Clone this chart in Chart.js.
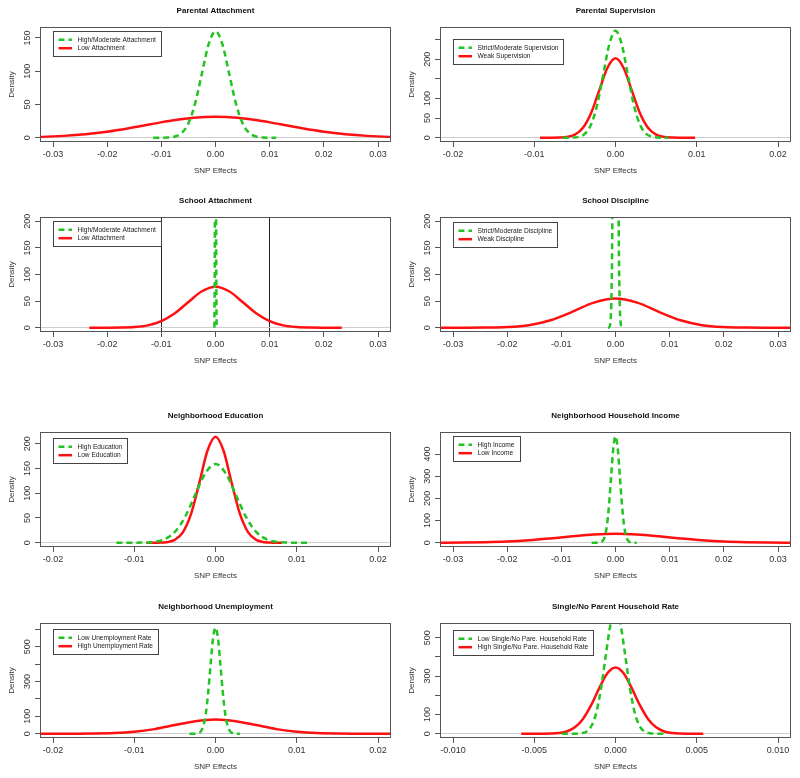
<!DOCTYPE html>
<html><head><meta charset="utf-8">
<script src="https://cdn.jsdelivr.net/npm/chart.js"></script>
<style>
html,body{margin:0;padding:0;background:#fff;}
body{width:800px;height:778px;position:relative;overflow:hidden;}
canvas{position:absolute;}
</style></head><body>
<script>
// ---------- text ----------
const titles = ['Parental Attachment','Parental Supervision','School Attachment','School Discipline',
  'Neighborhood Education','Neighborhood Household Income','Neighborhood Unemployment','Single/No Parent Household Rate'];
const legendHigh = ['High/Moderate Attachment','Strict/Moderate Supervision','High/Moderate Attachment','Strict/Moderate Discipline',
  'High Education','High Income','Low Unemployment Rate','Low Single/No Pare. Household Rate'];
const legendLow = ['Low Attachment','Weak Supervision','Low Attachment','Weak Discipline',
  'Low Education','Low Income','High Unemployment Rate','High Single/No Pare. Household Rate'];
const xTitle = 'SNP Effects';
const yTitle = 'Density';

// ---------- x ticks ----------
const xTicks3 = [-0.03,-0.02,-0.01,0,0.01,0.02,0.03];
const xLabels3 = ['-0.03','-0.02','-0.01','0.00','0.01','0.02','0.03'];
const xTicks2 = [-0.02,-0.01,0,0.01,0.02];
const xLabels2 = ['-0.02','-0.01','0.00','0.01','0.02'];
const xTicks1 = [-0.01,-0.005,0,0.005,0.01];
const xLabels1 = ['-0.010','-0.005','0.000','0.005','0.010'];
const xlim3 = [-0.0324,0.0324];
const xlim2 = [-0.0216,0.0216];
const xlim1 = [-0.0108,0.0108];

// ---------- y ticks ----------
const yTicksA = [0,50,100,150];            const yLabelsA = ['0','50','100','150'];
const yTicksB = [0,50,100,150,200,250];    const yLabelsB = ['0','50','100','','200',''];
const yTicksC = [0,50,100,150,200];        const yLabelsC = ['0','50','100','150','200'];
const yTicksD = [0,100,200,300,400];       const yLabelsD = ['0','100','200','300','400'];
const yTicksE = [0,100,200,300,400,500,600]; const yLabelsE = ['0','100','','300','','500',''];
const yTicksF = [0,100,200,300,400,500];   const yLabelsF = ['0','100','','300','','500'];
const ylim1 = [-6.4,166.4], ylim2 = [-10.84,281.84], ylim3 = [-8,208], ylim4 = [-8,208];
const ylim5 = [-8.6,223.6], ylim6 = [-19.2,499.2], ylim7 = [-24.5,636.5], ylim8 = [-22.2,576.2];
const vlines3 = [-0.01,0.01];

// ---------- curves ----------
const pa_hi_x = [-0.0115,-0.00875,-0.0075,-0.00625,-0.005,-0.00375,-0.0025,-0.00125,0,0.00125,0.0025,0.00375,0.005,0.00625,0.0075,0.00875,0.0112];
const pa_hi_y = [0,0.4,1.8,7,21.7,52,97,141,160,141,97,52,21.7,7,1.8,0.4,0];
const pa_lo_x = [-0.036,-0.032,-0.028,-0.024,-0.02,-0.016,-0.012,-0.008,-0.004,0,0.004,0.008,0.012,0.016,0.02,0.024,0.028,0.032,0.036];
const pa_lo_y = [0.6,1.3,2.8,5.3,9.1,14.3,20.2,25.8,30,31.5,30,25.8,20.2,14.3,9.1,5.3,2.8,1.3,0.6];

const ps_hi_x = [-0.0065,-0.00525,-0.0045,-0.00375,-0.003,-0.00225,-0.0015,-0.00075,0,0.00075,0.0015,0.00225,0.003,0.00375,0.0045,0.00525,0.0065];
const ps_hi_y = [0,0.46,2.5,10.6,34,84,162,239,272,239,162,84,34,10.6,2.5,0.46,0];
const ps_lo_x = [-0.0093,-0.008,-0.007,-0.006,-0.005,-0.004,-0.003,-0.002,-0.001,0,0.001,0.002,0.003,0.004,0.005,0.006,0.007,0.008,0.0098];
const ps_lo_y = [0,0.05,0.36,1.9,8,25.6,63.2,120.6,177.5,202,177.5,120.6,63.2,25.6,8,1.9,0.36,0.05,0];

const sa_hi_x = [-0.0002,-0.0001,0,0.0001,0.0002];
const sa_hi_y = [0,350,2600,350,0];
const sa_lo_x = [-0.0233,-0.02,-0.0175,-0.015,-0.0125,-0.01,-0.0075,-0.005,-0.0025,0,0.0025,0.005,0.0075,0.01,0.0125,0.015,0.0175,0.02,0.0233];
const sa_lo_y = [0,0.04,0.26,1.2,4.4,12.6,27.3,48.3,68.5,77,68.5,48.3,27.3,12.6,4.4,1.2,0.26,0.04,0];

const sd_hi_x = [-0.0014,-0.0012,-0.0009,-0.00075,-0.0006,-0.0003,0,0.0003,0.0006,0.00075,0.0009,0.0012,0.0014];
const sd_hi_y = [0,0.45,14.8,58,180,807,1330,807,180,58,14.8,0.45,0];
const sd_lo_x = [-0.036,-0.032,-0.028,-0.024,-0.02,-0.016,-0.012,-0.008,-0.004,0,0.004,0.008,0.012,0.016,0.02,0.024,0.028,0.032,0.036];
const sd_lo_y = [0,0.01,0.03,0.23,1.22,4.8,14,29.9,47.2,55,47.2,29.9,14,4.8,1.22,0.23,0.03,0.01,0];

const ne_hi_x = [-0.0122,-0.0105,-0.00875,-0.0075,-0.00625,-0.005,-0.00375,-0.0025,-0.00125,0,0.00125,0.0025,0.00375,0.005,0.00625,0.0075,0.00875,0.0105,0.0117];
const ne_hi_y = [0,0.02,0.36,1.8,7.2,21.9,52.1,96.8,140.4,159,140.4,96.8,52.1,21.9,7.2,1.8,0.36,0.02,0];
const ne_lo_x = [-0.0085,-0.007,-0.006,-0.005,-0.004,-0.003,-0.002,-0.001,0,0.001,0.002,0.003,0.004,0.005,0.006,0.007,0.0082];
const ne_lo_y = [0,0.19,1.2,5.9,21.4,58.6,120.3,185.3,214,185.3,120.3,58.6,21.4,5.9,1.2,0.19,0];

const ni_hi_x = [-0.0044,-0.0032,-0.0028,-0.0024,-0.002,-0.0016,-0.0012,-0.0008,-0.0004,0,0.0004,0.0008,0.0012,0.0016,0.002,0.0024,0.0028,0.0032,0.0039];
const ni_hi_y = [0,0.29,1.65,7.4,26.5,75.2,169,302,427.6,480,427.6,302,169,75.2,26.5,7.4,1.65,0.29,0];
const ni_lo_x = [-0.036,-0.032,-0.028,-0.024,-0.02,-0.016,-0.012,-0.008,-0.004,0,0.004,0.008,0.012,0.016,0.02,0.024,0.028,0.032,0.036];
const ni_lo_y = [0.06,0.23,0.78,2.2,5.3,11,19.4,29,36.9,40,36.9,29,19.4,11,5.3,2.2,0.78,0.23,0.06];

const nu_hi_x = [-0.0032,-0.0024,-0.0021,-0.0018,-0.0015,-0.0012,-0.0009,-0.0006,-0.0003,0,0.0003,0.0006,0.0009,0.0012,0.0015,0.0018,0.0021,0.0024,0.003];
const nu_hi_y = [0,0.73,3.5,13.8,44,113.3,236.6,400,549,610,549,400,236.6,113.3,44,13.8,3.5,0.73,0];
const nu_lo_x = [-0.025,-0.02,-0.0175,-0.015,-0.0125,-0.01,-0.0075,-0.005,-0.0025,0,0.0025,0.005,0.0075,0.01,0.0125,0.015,0.0175,0.02,0.025];
const nu_lo_y = [0,0.03,0.18,0.9,3.6,11.1,26.6,49.7,72.4,82,72.4,49.7,26.6,11.1,3.6,0.9,0.18,0.03,0];

const sp_hi_x = [-0.0033,-0.0024,-0.0021,-0.0018,-0.0015,-0.0012,-0.0009,-0.0006,-0.0003,0,0.0003,0.0006,0.0009,0.0012,0.0015,0.0018,0.0021,0.0024,0.003];
const sp_hi_y = [0,0.45,2.5,10.8,37.6,104.3,230.7,406.7,571.5,640,571.5,406.7,230.7,104.3,37.6,10.8,2.5,0.45,0];
const sp_lo_x = [-0.0058,-0.0045,-0.004,-0.0035,-0.003,-0.0025,-0.002,-0.0015,-0.001,-0.0005,0,0.0005,0.001,0.0015,0.002,0.0025,0.003,0.0035,0.004,0.0045,0.0054];
const sp_lo_y = [0,0.18,0.87,3.5,11.9,33.3,77.2,148.6,237.3,314.2,345,314.2,237.3,148.6,77.2,33.3,11.9,3.5,0.87,0.18,0];

// ---------- assemble ----------
const panels = [
  {hi:[pa_hi_x,pa_hi_y], lo:[pa_lo_x,pa_lo_y], xlim:xlim3, xt:xTicks3, xl:xLabels3, ylim:ylim1, yt:yTicksA, yl:yLabelsA, vl:[]},
  {hi:[ps_hi_x,ps_hi_y], lo:[ps_lo_x,ps_lo_y], xlim:xlim2, xt:xTicks2, xl:xLabels2, ylim:ylim2, yt:yTicksB, yl:yLabelsB, vl:[]},
  {hi:[sa_hi_x,sa_hi_y], lo:[sa_lo_x,sa_lo_y], xlim:xlim3, xt:xTicks3, xl:xLabels3, ylim:ylim3, yt:yTicksC, yl:yLabelsC, vl:vlines3},
  {hi:[sd_hi_x,sd_hi_y], lo:[sd_lo_x,sd_lo_y], xlim:xlim3, xt:xTicks3, xl:xLabels3, ylim:ylim4, yt:yTicksC, yl:yLabelsC, vl:[]},
  {hi:[ne_hi_x,ne_hi_y], lo:[ne_lo_x,ne_lo_y], xlim:xlim2, xt:xTicks2, xl:xLabels2, ylim:ylim5, yt:yTicksC, yl:yLabelsC, vl:[]},
  {hi:[ni_hi_x,ni_hi_y], lo:[ni_lo_x,ni_lo_y], xlim:xlim3, xt:xTicks3, xl:xLabels3, ylim:ylim6, yt:yTicksD, yl:yLabelsD, vl:[]},
  {hi:[nu_hi_x,nu_hi_y], lo:[nu_lo_x,nu_lo_y], xlim:xlim2, xt:xTicks2, xl:xLabels2, ylim:ylim7, yt:yTicksE, yl:yLabelsE, vl:[]},
  {hi:[sp_hi_x,sp_hi_y], lo:[sp_lo_x,sp_lo_y], xlim:xlim1, xt:xTicks1, xl:xLabels1, ylim:ylim8, yt:yTicksF, yl:yLabelsF, vl:[]}
];

// layout (positions only)
const canvasPos = [[0,0],[400,0],[0,190],[400,190],[0,405],[400,405],[0,596],[400,596]];
const legendTop = [4,12,4,4.5,6,3.7,6.3,7];

const FONT = '"Liberation Sans", Arial, Helvetica, sans-serif';
const GREEN = '#22c322', RED = '#ff1010';
const pts = (xs, ys) => xs.map((x, i) => ({x: x, y: ys[i]}));

const frameLegend = {
  id: 'frameLegend',
  afterDatasetsDraw(chart, args, opts) {
    const ctx = chart.ctx, a = chart.chartArea;
    ctx.save();
    ctx.strokeStyle = '#555'; ctx.lineWidth = 1; ctx.setLineDash([]);
    ctx.strokeRect(Math.round(a.left) + 0.5, Math.round(a.top) + 0.5,
                   Math.round(a.right - a.left) - 1, Math.round(a.bottom - a.top) - 1);
    const lx = Math.round(a.left + 13), ly = Math.round(a.top + opts.top);
    ctx.font = '6.6px ' + FONT;
    const ds = chart.data.datasets;
    const tw = Math.max(...ds.map(d => ctx.measureText(d.label).width));
    const w = Math.round(24.5 + tw + 5), h = 25;
    ctx.strokeStyle = '#444'; ctx.lineWidth = 1;
    ctx.strokeRect(lx + 0.5, ly + 0.5, w, h);
    ds.forEach((d, i) => {
      const yy = ly + 8.8 + i * 8.4;
      ctx.beginPath();
      ctx.setLineDash(d.borderDash || []);
      ctx.strokeStyle = d.borderColor; ctx.lineWidth = d.borderWidth;
      ctx.moveTo(lx + 5.5, yy); ctx.lineTo(lx + 19, yy); ctx.stroke();
      ctx.setLineDash([]);
      ctx.fillStyle = '#222'; ctx.textBaseline = 'middle'; ctx.textAlign = 'left';
      ctx.fillText(d.label, lx + 24.5, yy);
    });
    ctx.restore();
  }
};

panels.forEach((p, i) => {
  const cv = document.createElement('canvas');
  cv.width = 400; cv.height = 180;
  cv.style.left = canvasPos[i][0] + 'px';
  cv.style.top = canvasPos[i][1] + 'px';
  cv.style.width = '400px'; cv.style.height = '180px';
  document.body.appendChild(cv);
  new Chart(cv, {
    type: 'line',
    data: { datasets: [
      { label: legendHigh[i], data: pts(p.hi[0], p.hi[1]), borderColor: GREEN, borderWidth: 2.5,
        borderDash: [6, 4], pointRadius: 0, fill: false, cubicInterpolationMode: 'monotone', clip: 0 },
      { label: legendLow[i], data: pts(p.lo[0], p.lo[1]), borderColor: RED, borderWidth: 2.5,
        pointRadius: 0, fill: false, cubicInterpolationMode: 'monotone', clip: 0 }
    ]},
    options: {
      responsive: false, animation: false, devicePixelRatio: 1, events: [],
      layout: { padding: { left: 0, right: 9, top: 0, bottom: 0 } },
      plugins: {
        legend: { display: false }, tooltip: { enabled: false },
        title: { display: true, text: titles[i], fullSize: false, color: '#111',
                 font: { family: FONT, size: 8, weight: 'bold' }, padding: { top: 6.2, bottom: 11.2 } },
        frameLegend: { top: legendTop[i] }
      },
      scales: {
        x: {
          type: 'linear', min: p.xlim[0], max: p.xlim[1],
          afterBuildTicks: s => { s.ticks = p.xt.map(v => ({ value: v })); },
          afterFit: s => { s.height = 38; },
          ticks: { autoSkip: false, maxRotation: 0, minRotation: 0, padding: 2, color: '#333',
                   font: { family: FONT, size: 9 }, callback: (v, idx) => p.xl[idx] },
          grid: { drawOnChartArea: true, drawTicks: true, tickLength: 5, tickColor: '#555', lineWidth: 1,
                  color: c => (c.tick && p.vl.includes(c.tick.value)) ? '#222' : 'rgba(0,0,0,0)' },
          border: { display: false },
          title: { display: true, text: xTitle, color: '#333', font: { family: FONT, size: 8 }, padding: { top: 0, bottom: 4 } }
        },
        y: {
          type: 'linear', min: p.ylim[0], max: p.ylim[1],
          afterBuildTicks: s => { s.ticks = p.yt.map(v => ({ value: v })); },
          afterFit: s => { s.width = 40; },
          ticks: { autoSkip: false, minRotation: 90, maxRotation: 90, crossAlign: 'center', padding: 0, color: '#333',
                   font: { family: FONT, size: 9 }, callback: (v, idx) => p.yl[idx] },
          grid: { drawOnChartArea: true, drawTicks: true, tickLength: 5, tickColor: '#555', lineWidth: 1,
                  color: c => (c.tick && c.tick.value === 0) ? '#cfcfcf' : 'rgba(0,0,0,0)' },
          border: { display: false },
          title: { display: true, text: yTitle, color: '#333', font: { family: FONT, size: 8 }, padding: { top: 6.7, bottom: 0 } }
        }
      }
    },
    plugins: [frameLegend]
  });
});
</script>
</body></html>
